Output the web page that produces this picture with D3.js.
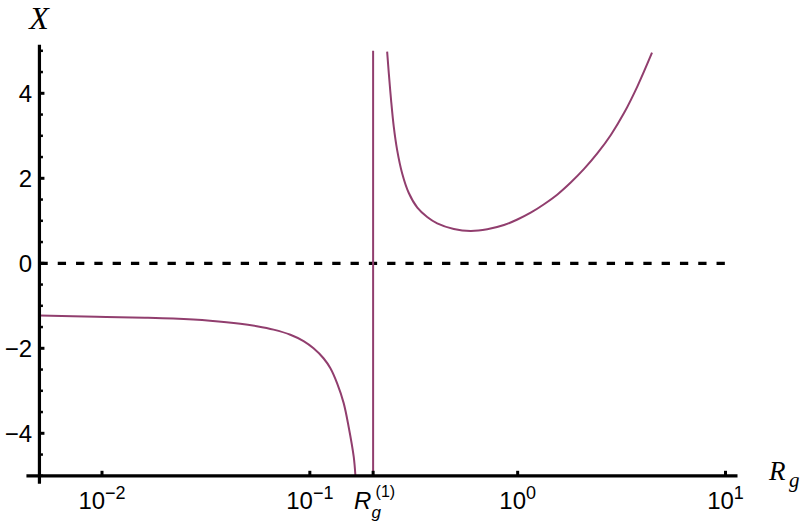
<!DOCTYPE html>
<html><head><meta charset="utf-8">
<script src="https://cdn.jsdelivr.net/npm/d3@7"></script>
<style>body{margin:0;background:#fff}svg{display:block}</style>
</head><body><svg id="c" width="810" height="525"></svg>
<script>
// Data
const leftR  = [0.00502, 0.00942, 0.0161, 0.0220, 0.0331, 0.0463, 0.0556, 0.0669, 0.0806, 0.0933, 0.1042, 0.1166, 0.1256, 0.1352, 0.1455, 0.1537, 0.1626, 0.1656];
const leftX  = [-1.23, -1.26, -1.28, -1.30, -1.35, -1.42, -1.48, -1.56, -1.68, -1.83, -2.00, -2.24, -2.47, -2.82, -3.29, -3.845, -4.55, -4.98];
const rightR = [0.2355, 0.2399, 0.246, 0.2535, 0.263, 0.278, 0.299, 0.329, 0.367, 0.410, 0.493, 0.593, 0.714, 0.859, 0.997, 1.155, 1.339, 1.554, 1.800, 2.087, 2.421, 2.807, 3.253, 3.773, 4.43];
const rightX = [4.98, 4.47, 3.84, 3.21, 2.67, 2.12, 1.66, 1.31, 1.09, 0.94, 0.807, 0.76, 0.80, 0.90, 1.03, 1.19, 1.39, 1.62, 1.90, 2.22, 2.59, 3.02, 3.54, 4.17, 4.955];
const R1 = 0.2016;
const xTickVals = [0.01, 0.1, 1, 10];
const xTickExp  = ["\u22122", "\u22121", "0", "1"];
const yTickVals = [-4, -2, 0, 2, 4];
const yTickLabels = ["\u22124", "\u22122", "0", "2", "4"];
const yMinorVals = d3.range(-5, 5.01, 0.5).filter(v => v % 2 !== 0);
const xRange = [0.005, 10];
const yRange = [-5, 5];

const svg = d3.select("#c");
const x = d3.scaleLog().domain([0.01, 10]).range([102, 725.5]);
const y = d3.scaleLinear().domain([-4, 4]).range([433.3, 93.3]);
const x0 = x(xRange[0]);
const yb = y(yRange[0]);
const color = "#913e6e";

// dashed zero line
svg.append("line").attr("x1", x0).attr("x2", x(10)+1).attr("y1", y(0)).attr("y2", y(0))
  .attr("stroke", "#000").attr("stroke-width", 3.3).attr("stroke-dasharray", "8.3,10");

// curves
const line = d3.line().x(d => x(d[0])).y(d => y(d[1])).curve(d3.curveCatmullRom.alpha(0.5));
svg.append("path").attr("d", line(leftR.map((r, i) => [r, leftX[i]])))
  .attr("fill", "none").attr("stroke", color).attr("stroke-width", 2);
svg.append("path").attr("d", line(rightR.map((r, i) => [r, rightX[i]])))
  .attr("fill", "none").attr("stroke", color).attr("stroke-width", 2);
// asymptote line
svg.append("line").attr("x1", x(R1)).attr("x2", x(R1)).attr("y1", y(yRange[0])).attr("y2", y(yRange[1]))
  .attr("stroke", color).attr("stroke-width", 2);

// axes lines
svg.append("line").attr("x1", x0 - 13).attr("x2", x(10) + 12).attr("y1", yb).attr("y2", yb)
  .attr("stroke", "#000").attr("stroke-width", 3.2);
svg.append("line").attr("x1", x0).attr("x2", x0).attr("y1", y(yRange[1]) - 6).attr("y2", yb + 8)
  .attr("stroke", "#000").attr("stroke-width", 3.2);

// y ticks
svg.selectAll(".ymaj").data(yTickVals).enter().append("line")
  .attr("x1", x0).attr("x2", x0 + 5).attr("y1", d => y(d)).attr("y2", d => y(d))
  .attr("stroke", "#000").attr("stroke-width", 3);
svg.selectAll(".ymin").data(yMinorVals).enter().append("line")
  .attr("x1", x0).attr("x2", x0 + 3.5).attr("y1", d => y(d)).attr("y2", d => y(d))
  .attr("stroke", "#000").attr("stroke-width", 2.5);
svg.selectAll(".ylab").data(yTickVals).enter().append("text")
  .attr("x", 32).attr("y", d => y(d) + 8.7).attr("text-anchor", "end")
  .attr("font-family", "Liberation Sans, Arial, sans-serif").attr("font-size", 24)
  .text((d, i) => yTickLabels[i]);

// x ticks
svg.selectAll(".xt").data(xTickVals.concat([R1])).enter().append("line")
  .attr("x1", d => x(d)).attr("x2", d => x(d)).attr("y1", yb).attr("y2", yb - 5)
  .attr("stroke", "#000").attr("stroke-width", 3);
const xl = svg.selectAll(".xl").data(xTickVals).enter().append("text")
  .attr("x", d => x(d)).attr("y", 508.5).attr("text-anchor", "middle")
  .attr("font-family", "Liberation Sans, Arial, sans-serif").attr("font-size", 24);
xl.append("tspan").text("10");
xl.append("tspan").attr("font-size", 18).attr("dy", -10).text((d, i) => xTickExp[i]);

// R_g^(1) tick label as one text element
const rx = x(R1) - 19;
const rl = svg.append("text").attr("x", rx).attr("y", 508.5)
  .attr("font-family", "Liberation Sans, Arial, sans-serif").attr("font-size", 24);
rl.append("tspan").attr("font-style", "italic").text("R");
rl.append("tspan").attr("font-style", "italic").attr("font-size", 17).attr("x", rx + 17.5).attr("y", 518).text("g");
rl.append("tspan").attr("font-size", 16).attr("x", rx + 21.5).attr("y", 496.5).text("(1)");

// axis labels
svg.append("text").attr("x", 39).attr("y", 28.5).attr("text-anchor", "middle")
  .attr("font-family", "Liberation Serif, Times New Roman, serif").attr("font-style", "italic")
  .attr("font-size", 32).text("X");
const rg = svg.append("text").attr("x", 769).attr("y", 480)
  .attr("font-family", "Liberation Serif, Times New Roman, serif").attr("font-style", "italic")
  .attr("font-size", 27);
rg.append("tspan").text("R");
rg.append("tspan").attr("font-size", 21).attr("x", 789).attr("y", 487).text("g");
</script></body></html>
